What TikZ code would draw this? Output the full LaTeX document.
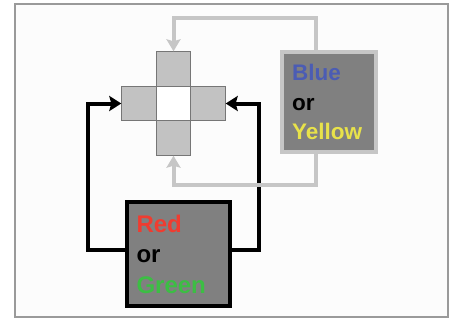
\documentclass[tikz,border=0pt]{standalone}
\usepackage{fontspec}
\setmainfont{Liberation Sans}
\usetikzlibrary{arrows.meta}
\definecolor{framegray}{HTML}{9A9A9A}
\definecolor{cellfill}{HTML}{C2C2C2}
\definecolor{celledge}{HTML}{767676}
\definecolor{boxfill}{HTML}{808080}
\definecolor{lightline}{HTML}{C6C6C6}
\definecolor{txtblue}{HTML}{4B5CB4}
\definecolor{txtyellow}{HTML}{E8E24A}
\definecolor{txtred}{HTML}{F03C30}
\definecolor{txtgreen}{HTML}{3CBE44}
\begin{document}
\begin{tikzpicture}[x=1pt,y=-1pt,
  cell/.style={draw=celledge, line width=0.9pt, fill=cellfill,
    minimum size=34.5pt, inner sep=0pt},
  lightbox/.style={fill=boxfill, inner sep=0pt, align=left,
    text width=74pt, draw=lightline, line width=4pt,
    minimum width=94pt, minimum height=100pt,
    font=\bfseries\fontsize{22.5pt}{29.5pt}\selectfont},
  darkbox/.style={fill=boxfill, inner sep=0pt, align=left,
    text width=84pt, draw=black, line width=4pt,
    minimum width=103pt, minimum height=104pt,
    font=\bfseries\fontsize{24pt}{30.5pt}\selectfont},
  blk/.style={draw=black, line width=4pt,
    -{Stealth[length=12pt,width=15pt,inset=2pt]}},
  gry/.style={draw=lightline, line width=4pt,
    -{Stealth[length=12pt,width=14pt,inset=2pt]}}
]
\useasboundingbox (0,0) rectangle (454,321);
% outer frame
\draw[framegray, line width=1.5pt, fill=white!98!gray] (15,4) rectangle (448,317);

% the plus-shaped grid
\node[cell] (ctop) at (173.5,69) {};
\node[cell] (cleft) at (139,103.5) {};
\node[cell] (cright) at (208,103.5) {};
\node[cell] (cbot) at (173.5,138) {};
\node[cell, fill=white] (cmid) at (173.5,103.5) {};

% colour boxes
\node[lightbox] (by) at (329,102)
  {\textcolor{txtblue}{Blue}\\or\\\textcolor{txtyellow}{Yellow}};
\node[darkbox] (rg) at (178.5,254)
  {\textcolor{txtred}{Red}\\or\\\textcolor{txtgreen}{Green}};

% bend points of the connectors
\coordinate (lk) at (88,103.5);
\coordinate (rk) at (259,103.5);
\coordinate (gt) at (173.5,18);
\coordinate (gb) at (173.5,185);

% black feedback from Red/Green box
\draw[blk] ([yshift=4pt]rg.west) -| (lk) -- (cleft.west);
\draw[blk] ([yshift=4pt]rg.east) -| (rk) -- (cright.east);

% grey feedback from Blue/Yellow box
\draw[gry] ([xshift=-13pt]by.north) |- (gt) -- (ctop.north);
\draw[gry] ([xshift=-13pt]by.south) |- (gb) -- (cbot.south);
\end{tikzpicture}
\end{document}
